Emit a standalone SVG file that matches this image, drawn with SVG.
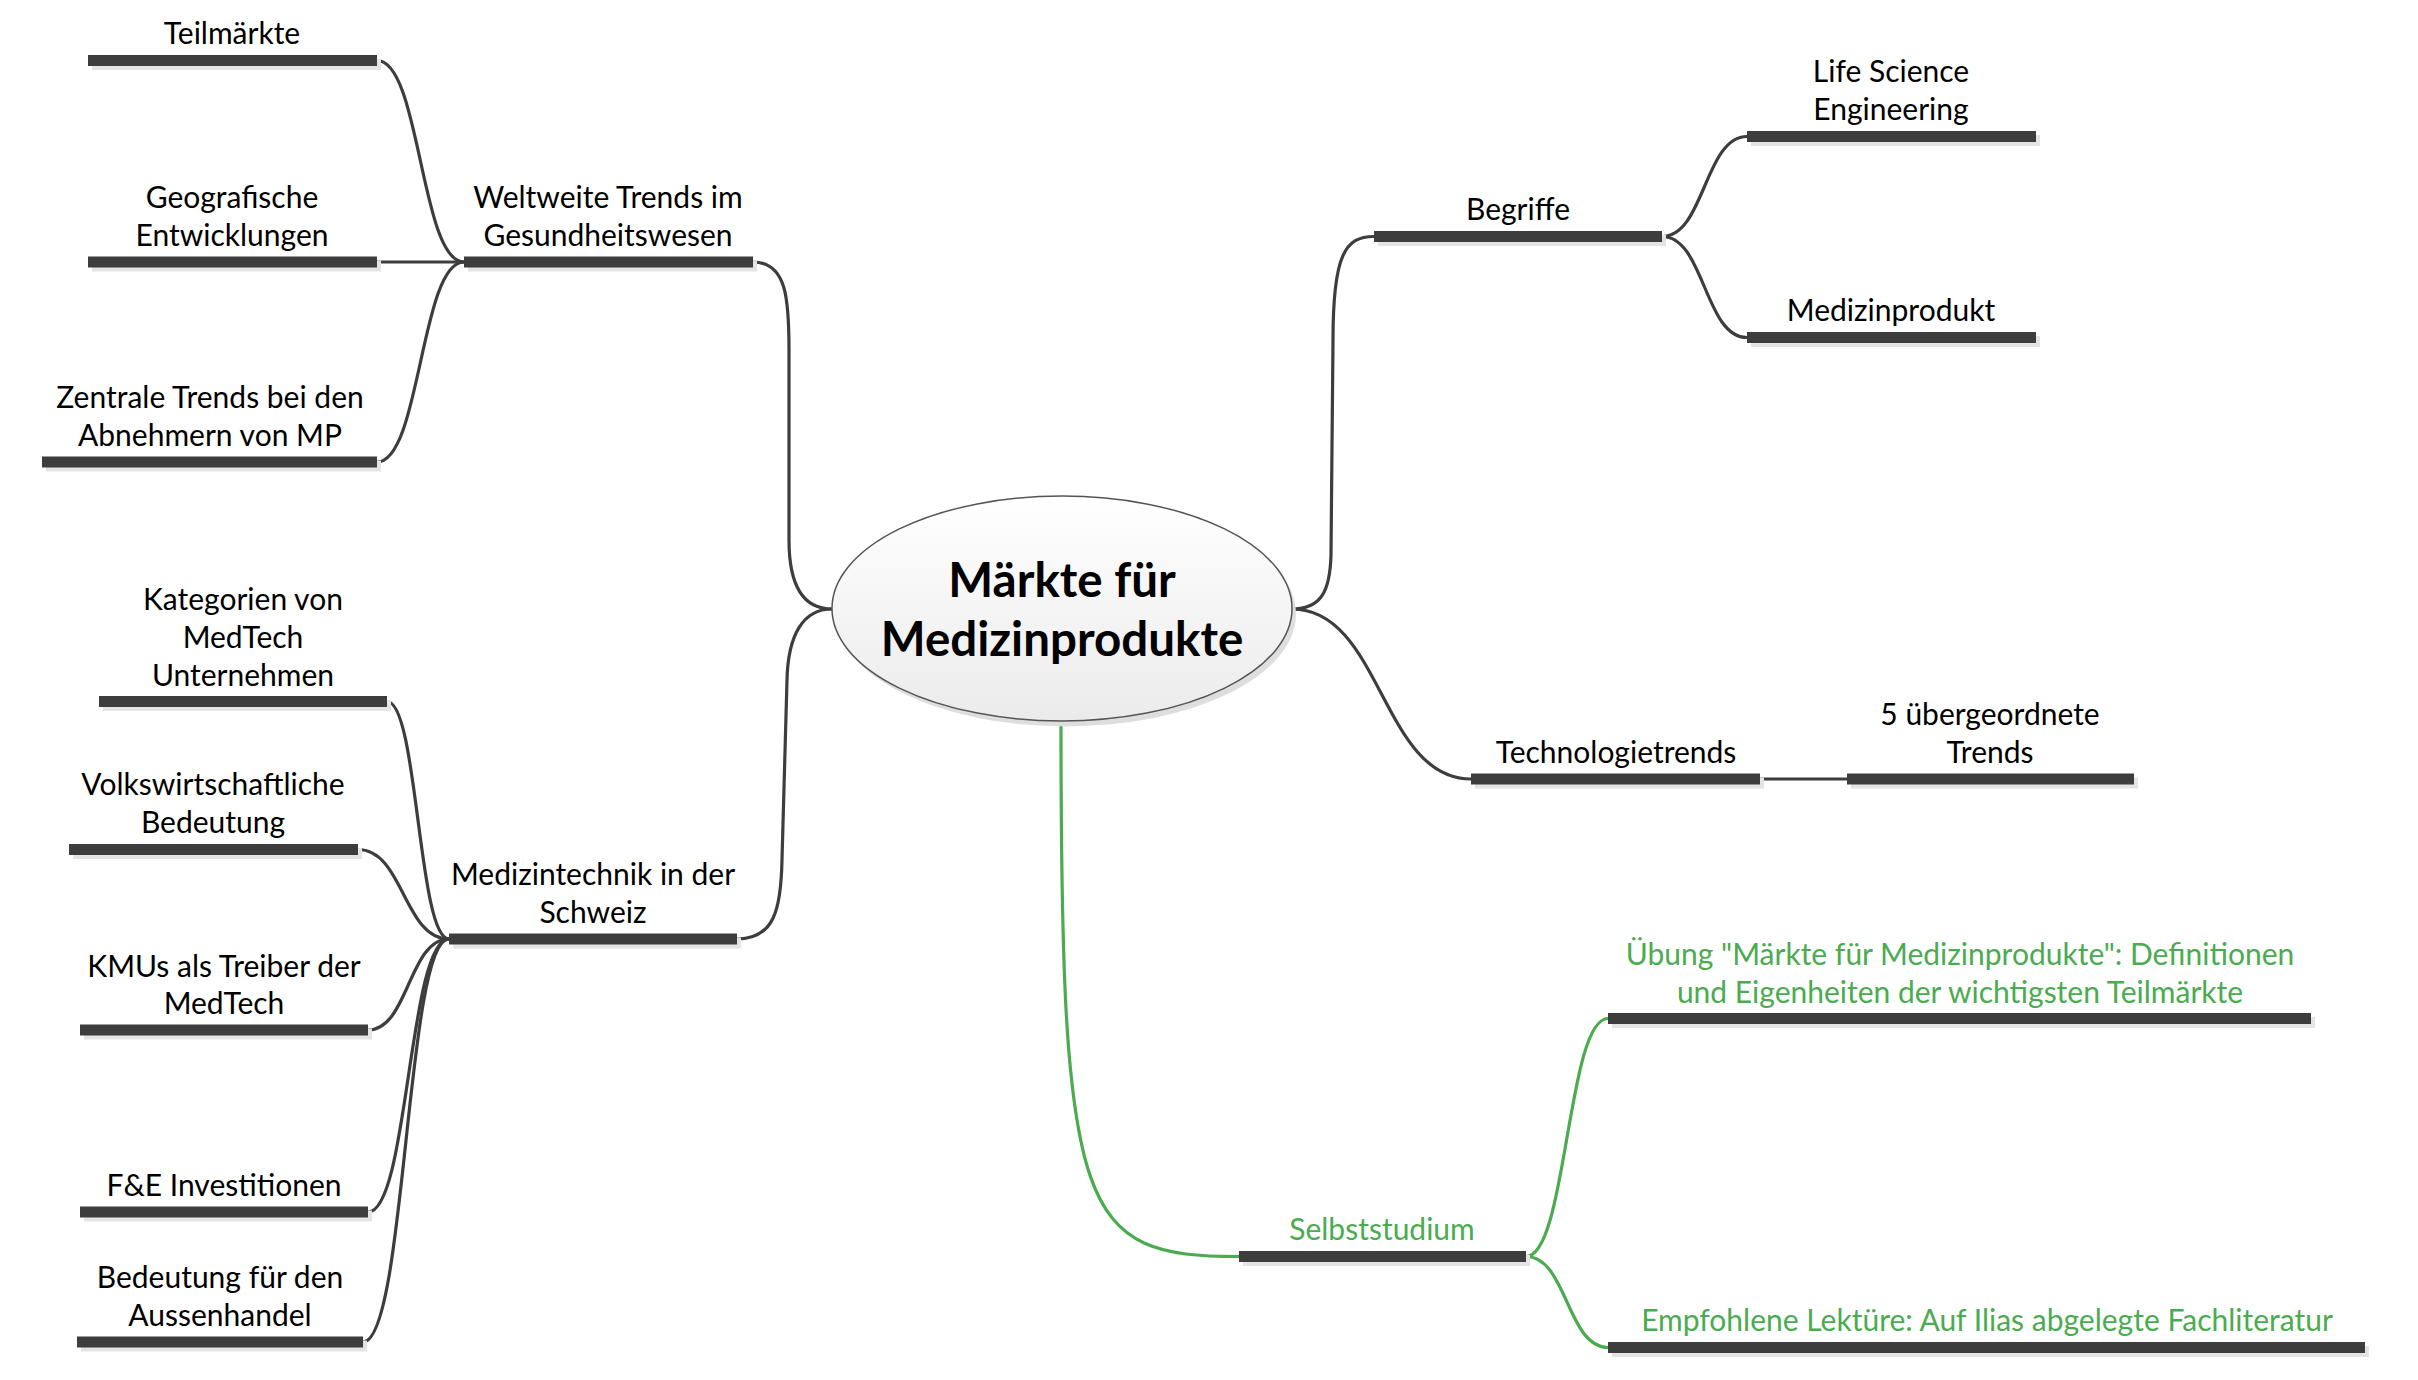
<svg xmlns="http://www.w3.org/2000/svg" width="2418" height="1380" viewBox="0 0 2418 1380">
<style>
.bar{fill:#3d3d3d}
.sh{fill:#e4e4e4}
.lbl{font-family:Lato,"Liberation Sans",sans-serif;font-size:30px;fill:#000;text-anchor:middle}
.grn{fill:#4aab50}
.c{fill:none;stroke:#3d3d3d;stroke-width:3.2;stroke-linecap:round}
.cg{stroke:#4aab50}
.title{font-family:Lato,"Liberation Sans",sans-serif;font-size:47.5px;font-weight:bold;fill:#000;text-anchor:middle}
</style>
<defs>
<linearGradient id="eg" x1="0" y1="0" x2="0" y2="1">
<stop offset="0" stop-color="#ffffff"/>
<stop offset="1" stop-color="#ebebeb"/>
</linearGradient>
</defs>
<rect width="2418" height="1380" fill="#ffffff"/>
<g id="connectors">
<path class="c" d="M377,60.5 C420.5,60.5 420.5,262 464,262"/>
<path class="c" d="M377,262 L464,262"/>
<path class="c" d="M377,462 C420.5,462 420.5,262 464,262"/>
<path class="c" d="M753,262 C787,262 789,300 789,350 L789,540 C789,585 803,609 832,609"/>
<path class="c" d="M737,939 C774,939 781,910 782,860 L787,680 C788,635 803,609 832,609"/>
<path class="c" d="M387,701.5 C418,701.5 418,939 449,939"/>
<path class="c" d="M358,849.5 C403.5,849.5 403.5,939 449,939"/>
<path class="c" d="M368,1030 C408.5,1030 408.5,939 449,939"/>
<path class="c" d="M368,1212 C408.5,1212 408.5,939 449,939"/>
<path class="c" d="M363,1342 C406,1342 406,939 449,939"/>
<path class="c" d="M1292,609 C1322,609 1330,590 1331,555 L1333,340 C1333,255 1345,236.5 1374,236.5"/>
<path class="c" d="M1662,236.5 C1704.5,236.5 1704.5,136.5 1747,136.5"/>
<path class="c" d="M1662,236.5 C1704.5,236.5 1704.5,337.5 1747,337.5"/>
<path class="c" d="M1292,609 C1381.5,609 1381.5,779 1471,779"/>
<path class="c" d="M1760,779 L1847,779"/>
<path class="c cg" d="M1061,725 C1061,1220 1080,1256.5 1239,1256.5"/>
<path class="c cg" d="M1526,1256.5 C1567,1256.5 1567,1018.5 1608,1018.5"/>
<path class="c cg" d="M1526,1256.5 C1567,1256.5 1567,1347.5 1608,1347.5"/>
</g>
<g id="center">
<ellipse cx="1066" cy="614" rx="230" ry="112.5" fill="#dedede"/>
<ellipse cx="1062" cy="608.5" rx="230" ry="112.5" fill="url(#eg)" stroke="#555555" stroke-width="1.5"/>
<text class="title" x="1062" y="597">Märkte für</text>
<text class="title" x="1062" y="656">Medizinprodukte</text>
</g>
<g id="n-teilmaerkte">
<rect class="sh" x="92" y="59" width="289" height="11"/><rect class="bar" x="88" y="55" width="289" height="11"/>
<text class="lbl" x="232" y="44">Teilmärkte</text>
</g>
<g id="n-geografische">
<rect class="sh" x="92" y="260.5" width="289" height="11"/><rect class="bar" x="88" y="256.5" width="289" height="11"/>
<text class="lbl" x="232" y="208">Geografische</text>
<text class="lbl" x="232" y="246">Entwicklungen</text>
</g>
<g id="n-zentrale">
<rect class="sh" x="46" y="460.5" width="335" height="11"/><rect class="bar" x="42" y="456.5" width="335" height="11"/>
<text class="lbl" x="210" y="408">Zentrale Trends bei den</text>
<text class="lbl" x="210" y="446">Abnehmern von MP</text>
</g>
<g id="n-weltweite">
<rect class="sh" x="468" y="260.5" width="289" height="11"/><rect class="bar" x="464" y="256.5" width="289" height="11"/>
<text class="lbl" x="608" y="208">Weltweite Trends im</text>
<text class="lbl" x="608" y="246">Gesundheitswesen</text>
</g>
<g id="n-begriffe">
<rect class="sh" x="1378" y="235" width="288" height="11"/><rect class="bar" x="1374" y="231" width="288" height="11"/>
<text class="lbl" x="1518" y="220">Begriffe</text>
</g>
<g id="n-lifescience">
<rect class="sh" x="1751" y="135" width="289" height="11"/><rect class="bar" x="1747" y="131" width="289" height="11"/>
<text class="lbl" x="1891" y="82">Life Science</text>
<text class="lbl" x="1891" y="120">Engineering</text>
</g>
<g id="n-medizinprodukt">
<rect class="sh" x="1751" y="336" width="289" height="11"/><rect class="bar" x="1747" y="332" width="289" height="11"/>
<text class="lbl" x="1891" y="321">Medizinprodukt</text>
</g>
<g id="n-technologietrends">
<rect class="sh" x="1475" y="777.5" width="289" height="11"/><rect class="bar" x="1471" y="773.5" width="289" height="11"/>
<text class="lbl" x="1616" y="763">Technologietrends</text>
</g>
<g id="n-uebergeordnete">
<rect class="sh" x="1851" y="777.5" width="287" height="11"/><rect class="bar" x="1847" y="773.5" width="287" height="11"/>
<text class="lbl" x="1990" y="725">5 übergeordnete</text>
<text class="lbl" x="1990" y="763">Trends</text>
</g>
<g id="n-medizintechnik">
<rect class="sh" x="453" y="937.5" width="288" height="11"/><rect class="bar" x="449" y="933.5" width="288" height="11"/>
<text class="lbl" x="593" y="885">Medizintechnik in der</text>
<text class="lbl" x="593" y="923">Schweiz</text>
</g>
<g id="n-kategorien">
<rect class="sh" x="103" y="700" width="288" height="11"/><rect class="bar" x="99" y="696" width="288" height="11"/>
<text class="lbl" x="243" y="610">Kategorien von</text>
<text class="lbl" x="243" y="648">MedTech</text>
<text class="lbl" x="243" y="686">Unternehmen</text>
</g>
<g id="n-volkswirtschaftliche">
<rect class="sh" x="73" y="848" width="289" height="11"/><rect class="bar" x="69" y="844" width="289" height="11"/>
<text class="lbl" x="213" y="795">Volkswirtschaftliche</text>
<text class="lbl" x="213" y="833">Bedeutung</text>
</g>
<g id="n-kmus">
<rect class="sh" x="84" y="1028.5" width="288" height="11"/><rect class="bar" x="80" y="1024.5" width="288" height="11"/>
<text class="lbl" x="224" y="977">KMUs als Treiber der</text>
<text class="lbl" x="224" y="1014">MedTech</text>
</g>
<g id="n-fe">
<rect class="sh" x="84" y="1210.5" width="288" height="11"/><rect class="bar" x="80" y="1206.5" width="288" height="11"/>
<text class="lbl" x="224" y="1196">F&amp;E Investitionen</text>
</g>
<g id="n-aussenhandel">
<rect class="sh" x="81" y="1340.5" width="286" height="11"/><rect class="bar" x="77" y="1336.5" width="286" height="11"/>
<text class="lbl" x="220" y="1288">Bedeutung für den</text>
<text class="lbl" x="220" y="1326">Aussenhandel</text>
</g>
<g id="n-selbststudium">
<rect class="sh" x="1243" y="1255" width="287" height="11"/><rect class="bar" x="1239" y="1251" width="287" height="11"/>
<text class="lbl grn" x="1382" y="1240">Selbststudium</text>
</g>
<g id="n-uebung">
<rect class="sh" x="1612" y="1017" width="703" height="11"/><rect class="bar" x="1608" y="1013" width="703" height="11"/>
<text class="lbl grn" x="1960" y="965">Übung "Märkte für Medizinprodukte": Definitionen</text>
<text class="lbl grn" x="1960" y="1003">und Eigenheiten der wichtigsten Teilmärkte</text>
</g>
<g id="n-lektuere">
<rect class="sh" x="1612" y="1346" width="757" height="11"/><rect class="bar" x="1608" y="1342" width="757" height="11"/>
<text class="lbl grn" x="1987" y="1331">Empfohlene Lektüre: Auf Ilias abgelegte Fachliteratur</text>
</g>
</svg>
